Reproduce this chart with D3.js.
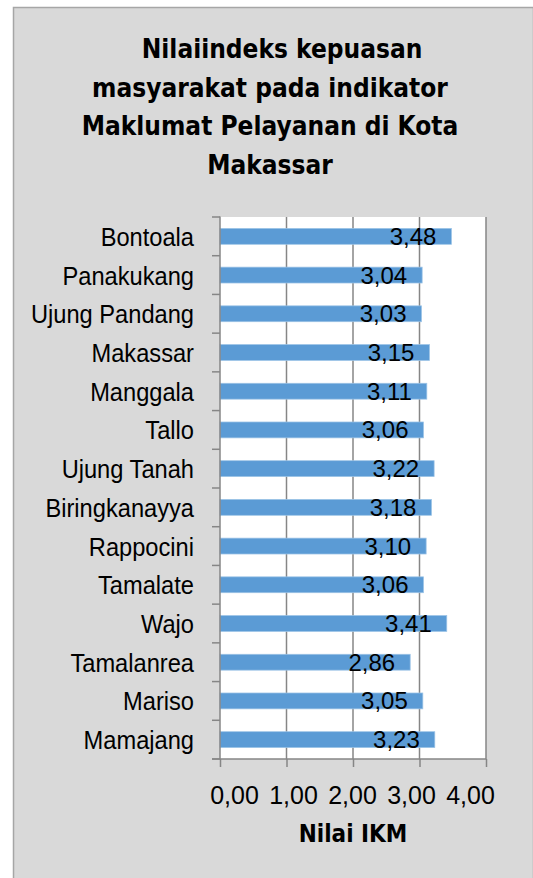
<!DOCTYPE html>
<html>
<head>
<meta charset="utf-8">
<script src="https://cdn.jsdelivr.net/npm/d3@7"></script>
<style>
  body { margin: 0; background: #fff; }
  svg { display: block; }
</style>
</head>
<body>
<svg></svg>
<script>
const categories = ['Bontoala', 'Panakukang', 'Ujung Pandang', 'Makassar', 'Manggala', 'Tallo',
  'Ujung Tanah', 'Biringkanayya', 'Rappocini', 'Tamalate', 'Wajo', 'Tamalanrea', 'Mariso', 'Mamajang']
const values = [3.48, 3.04, 3.03, 3.15, 3.11, 3.06, 3.22, 3.18, 3.10, 3.06, 3.41, 2.86, 3.05, 3.23]
const xTicks = [0, 1, 2, 3, 4]
const titleLines = ['\u00a0Nilaiindeks kepuasan', 'masyarakat pada indikator', 'Maklumat Pelayanan di Kota', 'Makassar']
const axisTitle = 'Nilai IKM'

const data = categories.map((c, i) => ({name: c, value: values[i]}))

const [svgWidth, svgHeight] = [533, 878]
const svg = d3.select('svg').attr('width', svgWidth).attr('height', svgHeight)
const translate = (x, y) => `translate(${x}, ${y})`
const fmt = v => d3.format('.2f')(v).replace('.', ',')

// chart background
svg.append('rect')
  .attr('x', 13.5).attr('y', 7.5)
  .attr('width', svgWidth - 13).attr('height', svgHeight)
  .style('fill', '#d9d9d9')
  .style('stroke', '#a6a6a6').style('stroke-width', 1.5)

// title
svg.append('text')
  .attr('x', 270).attr('y', 58)
  .style('font-family', '"DejaVu Sans Condensed", "DejaVu Sans", sans-serif')
  .style('font-stretch', 'condensed')
  .style('font-weight', 'bold').style('font-size', '26px')
  .style('fill', '#000')
  .attr('text-anchor', 'middle')
  .selectAll('tspan').data(titleLines).enter().append('tspan')
  .attr('x', (d, i) => i === 0 ? 278 : 270).attr('y', (d, i) => 58 + i * 38.5)
  .text(d => d)

const plot = {left: 220, right: 486, top: 217, bottom: 759}

const x = d3.scaleLinear().domain([0, 4]).range([plot.left, plot.right])
const y = d3.scaleBand().domain(categories).range([plot.top, plot.bottom]).paddingInner(0.59).paddingOuter(0.295)
// the tick labels in the picture sit closer together than the ticks
const xLabel = d3.scaleLinear().domain([0, 4]).range([234, 470])

svg.append('rect')
  .attr('x', plot.left).attr('y', plot.top)
  .attr('width', plot.right - plot.left).attr('height', plot.bottom - plot.top)
  .style('fill', '#fff')

// gridlines
svg.append('g').selectAll('line').data(xTicks.slice(1)).enter().append('line')
  .attr('x1', d => x(d)).attr('x2', d => x(d))
  .attr('y1', plot.top).attr('y2', plot.bottom)
  .style('stroke', '#868686').style('stroke-width', 1.5)

// bars
svg.append('g').selectAll('rect').data(data).enter().append('rect')
  .attr('x', x(0))
  .attr('y', d => y(d.name))
  .attr('width', d => x(d.value) - x(0))
  .attr('height', y.bandwidth())
  .style('fill', '#5b9bd5')
  .style('stroke', '#9cc3e6').style('stroke-width', 0.75)

// value labels
svg.append('g').selectAll('text').data(data).enter().append('text')
  .attr('x', d => x(d.value) - 15)
  .attr('y', d => y(d.name) + y.bandwidth() / 2 + 8.5)
  .attr('text-anchor', 'end')
  .style('font-family', '"Liberation Sans", Arial, sans-serif')
  .style('font-size', '24px').style('fill', '#000')
  .text(d => fmt(d.value))

// y axis
const yAxis = d3.axisLeft(y).tickSize(0).tickPadding(0).tickFormat('')
const yG = svg.append('g').attr('transform', translate(plot.left, 0)).call(yAxis)
yG.select('.domain').style('stroke', '#868686').style('stroke-width', 1.5)
  .attr('d', `M0,${plot.top - 0.5}V${plot.bottom}`)
// category boundary ticks
const bounds = d3.range(categories.length + 1).map(i => plot.top + i * y.step())
svg.append('g').selectAll('line').data(bounds).enter().append('line')
  .attr('x1', plot.left - 8).attr('x2', plot.left)
  .attr('y1', d => d).attr('y2', d => d)
  .style('stroke', '#868686').style('stroke-width', 1.5)

// narrow category labels
svg.append('g').selectAll('text').data(categories).enter().append('text')
  .attr('transform', d => translate(194, y(d) + y.bandwidth() / 2 + 9.5) + ' scale(0.91, 1)')
  .attr('text-anchor', 'end')
  .style('font-family', '"Liberation Sans", Arial, sans-serif')
  .style('font-size', '26px').style('fill', '#000')
  .text(d => d)

// x axis
const xAxis = d3.axisBottom(x).tickValues(xTicks).tickSize(8).tickFormat('')
const xG = svg.append('g').attr('transform', translate(0, plot.bottom)).call(xAxis)
xG.select('.domain').style('stroke', '#868686').style('stroke-width', 1.5)
  .attr('d', `M${plot.left - 8},0H${plot.right}`)
xG.selectAll('.tick line').style('stroke', '#868686').style('stroke-width', 1.5)

const xLabelAxis = d3.axisBottom(xLabel).tickValues(xTicks).tickSize(0).tickPadding(0).tickFormat(fmt)
const xl = svg.append('g').attr('transform', translate(0, 804)).call(xLabelAxis)
xl.select('.domain').remove()
xl.selectAll('text')
  .attr('dy', 0).attr('y', 0)
  .style('font-family', '"Liberation Sans", Arial, sans-serif')
  .style('font-size', '25px').style('fill', '#000')

svg.append('text')
  .attr('x', 353).attr('y', 842)
  .attr('text-anchor', 'middle')
  .style('font-family', '"DejaVu Sans Condensed", "DejaVu Sans", sans-serif')
  .style('font-stretch', 'condensed')
  .style('font-weight', 'bold').style('font-size', '24px')
  .text(axisTitle)
</script>
</body>
</html>
